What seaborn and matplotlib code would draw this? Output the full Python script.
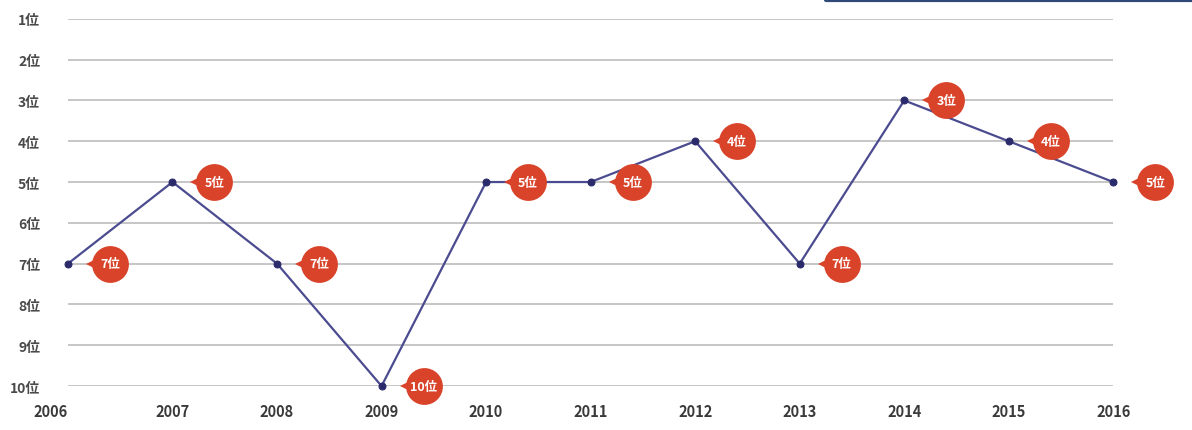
import matplotlib
matplotlib.use("Agg")
import matplotlib.pyplot as plt
import matplotlib.transforms as mtransforms
from matplotlib.lines import Line2D
import seaborn as sns
import pandas as pd

years = [2006, 2007, 2008, 2009, 2010, 2011, 2012, 2013, 2014, 2015, 2016]
ranks = [7, 5, 7, 10, 5, 5, 4, 7, 3, 4, 5]
rank_ticks = [1, 2, 3, 4, 5, 6, 7, 8, 9, 10]
rank_labels = [f"{r}位" for r in rank_ticks]
point_labels = [f"{r}位" for r in ranks]

sns.set_theme(style="white")
plt.rcParams["font.family"] = ["Noto Sans CJK JP", "DejaVu Sans"]

df = pd.DataFrame({"year": years, "rank": ranks})

fig = plt.figure(figsize=(11.92, 4.31), dpi=100)
ax = fig.add_axes([0.057, 0.102, 0.877, 0.852])

# horizontal guide lines for each rank
for r in rank_ticks:
    ax.axhline(r, color="#c2c2c2", lw=1.3, zorder=1)

sns.lineplot(data=df, x="year", y="rank", ax=ax, color="#4b4b90", lw=1.6,
             marker="o", markersize=5, markerfacecolor="#2b2b6b",
             markeredgecolor="#2b2b6b", zorder=3, clip_on=False)

# red callout bubbles to the right of each point
bubble = "#d8432a"
off_circle = mtransforms.offset_copy(ax.transData, fig=fig, x=42, y=0, units="dots")
off_tip = mtransforms.offset_copy(ax.transData, fig=fig, x=24, y=0, units="dots")
for x, y, lab in zip(years, ranks, point_labels):
    ax.plot([x], [y], marker="<", markersize=8, color=bubble, transform=off_tip,
            clip_on=False, zorder=4, markeredgewidth=0)
    ax.plot([x], [y], marker="o", markersize=26.5, color=bubble, transform=off_circle,
            clip_on=False, zorder=5, markeredgewidth=0)
    ax.text(x, y, lab, transform=off_circle, ha="center", va="center",
            color="white", fontsize=9, fontweight="bold", zorder=6, clip_on=False)

ax.set_xlim(2006, 2016)
ax.set_ylim(10, 1)
ax.set_xticks(years)
ax.set_xticklabels([str(y) for y in years])
ax.set_yticks(rank_ticks)
ax.set_yticklabels(rank_labels)
ax.tick_params(axis="x", length=0, pad=12, labelsize=10.5, labelcolor="#3a3a3a")
ax.tick_params(axis="y", length=0, pad=20, labelsize=10, labelcolor="#4a4a4a")
for t in ax.get_xticklabels():
    t.set_fontweight("bold")
ax.get_xticklabels()[0].set_ha("right")
for t in ax.get_yticklabels():
    t.set_fontweight("bold")
ax.set_xlabel("")
ax.set_ylabel("")
for s in ax.spines.values():
    s.set_visible(False)

# frame edge along the top right
fig.add_artist(Line2D([826 / 1192, 1.0], [0.997, 0.997], color="#2f4a78", lw=3,
                      transform=fig.transFigure))

fig.savefig("out.png", dpi=100, facecolor="white")
